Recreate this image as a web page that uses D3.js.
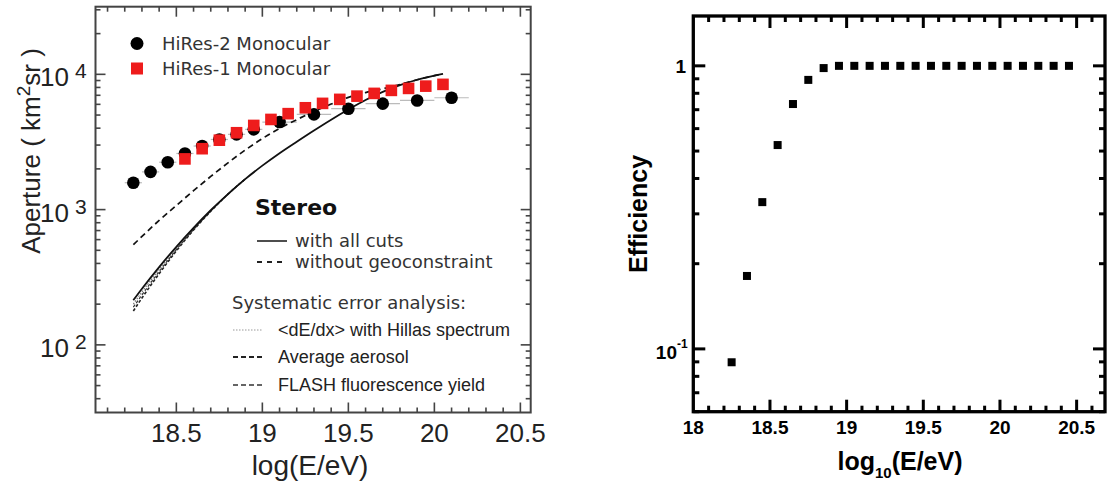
<!DOCTYPE html>
<html><head><meta charset="utf-8">
<script src="https://cdn.jsdelivr.net/npm/d3@7"></script>
</head><body style="margin:0">
<svg id="c" width="1107" height="487"></svg>
<script>
// ---------- Left panel data ----------
const hires2X = [18.25, 18.35, 18.45, 18.55, 18.65, 18.75, 18.85, 18.95, 19.1, 19.3, 19.5, 19.7, 19.9, 20.1];
const hires2Y = [1580, 1900, 2240, 2600, 2950, 3300, 3600, 3920, 4440, 5060, 5570, 6070, 6410, 6710];
const hires2Err = [0.05, 0.05, 0.05, 0.05, 0.05, 0.05, 0.05, 0.05, 0.1, 0.1, 0.1, 0.1, 0.1, 0.1];
const hires1X = [18.55, 18.65, 18.75, 18.85, 18.95, 19.05, 19.15, 19.25, 19.35, 19.45, 19.55, 19.65, 19.75, 19.85, 19.95, 20.05];
const hires1Y = [2370, 2820, 3260, 3700, 4190, 4640, 5120, 5660, 6100, 6530, 6900, 7230, 7610, 7870, 8180, 8430];
const cutsX = [18.25, 18.3, 18.4, 18.5, 18.6, 18.7, 18.8, 18.9, 19.0, 19.1, 19.2, 19.3, 19.4, 19.5, 19.6, 19.7, 19.8, 19.9, 20.0, 20.05];
const cutsY = [214, 260, 376, 531, 733, 989, 1303, 1679, 2113, 2612, 3177, 3846, 4624, 5495, 6457, 7413, 8318, 9120, 9772, 10069];
const noGeoX = [18.25, 18.4, 18.5, 18.6, 18.7, 18.8, 18.9, 19.0, 19.1, 19.2, 19.3, 19.4, 19.5, 19.6, 19.7, 19.8, 19.9, 20.0, 20.05];
const noGeoY = [550, 832, 1072, 1380, 1758, 2213, 2754, 3350, 3981, 4624, 5309, 6026, 6761, 7328, 7816, 8414, 9120, 9772, 10069];
const dedxX = [18.25, 18.3, 18.4, 18.5, 18.6, 18.7, 18.8, 18.9];
const dedxY = [200, 246, 360, 514, 718, 980, 1303, 1679];
const aerosolX = [18.25, 18.3, 18.4, 18.5, 18.6, 18.7, 18.8, 18.9];
const aerosolY = [178, 222, 336, 495, 706, 972, 1300, 1679];
const flashX = [18.25, 18.3, 18.4, 18.5, 18.6, 18.7, 18.8, 18.9];
const flashY = [190, 234, 348, 505, 712, 977, 1300, 1679];
const leftXTicks = [18.5, 19, 19.5, 20, 20.5];
const leftXTickLabels = ["18.5", "19", "19.5", "20", "20.5"];
const leftXMinor = [18.1, 18.2, 18.3, 18.4, 18.6, 18.7, 18.8, 18.9, 19.1, 19.2, 19.3, 19.4, 19.6, 19.7, 19.8, 19.9, 20.1, 20.2, 20.3, 20.4];
const leftYTicks = [100, 1000, 10000];
const leftYMinor = [40, 50, 60, 70, 80, 90, 200, 300, 400, 500, 600, 700, 800, 900, 2000, 3000, 4000, 5000, 6000, 7000, 8000, 9000, 20000, 30000];
const leftYExp = ["2", "3", "4"];

// ---------- Right panel data ----------
const effX = [18.25, 18.35, 18.45, 18.55, 18.65, 18.75, 18.85, 18.95, 19.05, 19.15, 19.25, 19.35, 19.45, 19.55, 19.65, 19.75, 19.85, 19.95, 20.05, 20.15, 20.25, 20.35, 20.45];
const effY = [0.0897, 0.181, 0.33, 0.525, 0.733, 0.892, 0.982, 1.0, 1.0, 1.0, 1.0, 1.0, 1.0, 1.0, 1.0, 1.0, 1.0, 1.0, 1.0, 1.0, 1.0, 1.0, 1.0];
const rightXTicks = [18, 18.5, 19, 19.5, 20, 20.5];
const rightXTickLabels = ["18", "18.5", "19", "19.5", "20", "20.5"];
const rightXMinor = [18.1, 18.2, 18.3, 18.4, 18.6, 18.7, 18.8, 18.9, 19.1, 19.2, 19.3, 19.4, 19.6, 19.7, 19.8, 19.9, 20.1, 20.2, 20.3, 20.4, 20.6];
const rightYTicks = [0.1, 1];
const rightYMinor = [0.06, 0.07, 0.08, 0.09, 0.2, 0.3, 0.4, 0.5, 0.6, 0.7, 0.8, 0.9];

const svg = d3.select("#c");

// ticks as thin filled rectangles pointing inward
function drawTicks(x, y, xMaj, xMin, yMaj, yMin, major, minor, color, sw) {
  const r1 = x.range(), r2 = y.range();
  const xa = r1[0], xb = r1[1], yb = r2[0], ya = r2[1];
  const rects = [];
  const h = sw / 2;
  xMaj.forEach(v => { const p = x(v); rects.push([p - h, yb - major, sw, major], [p - h, ya, sw, major]); });
  xMin.forEach(v => { const p = x(v); rects.push([p - h, yb - minor, sw, minor], [p - h, ya, sw, minor]); });
  yMaj.forEach(v => { const p = y(v); rects.push([xa, p - h, major, sw], [xb - major, p - h, major, sw]); });
  yMin.forEach(v => { const p = y(v); rects.push([xa, p - h, minor, sw], [xb - minor, p - h, minor, sw]); });
  svg.append("g").selectAll("rect").data(rects).join("rect")
    .attr("x", d => d[0]).attr("y", d => d[1]).attr("width", d => d[2]).attr("height", d => d[3])
    .attr("fill", color);
}

// ================= LEFT PANEL =================
const xL = d3.scaleLinear().domain([18.03, 20.56]).range([95.5, 530.7]);
const yL = d3.scaleLog().domain([Math.pow(10, 1.5), Math.pow(10, 4.5)]).range([412.5, 6.7]);
const gL = svg.append("g");
const lineL = (xs, ys) => d3.line().x((d, i) => xL(xs[i])).y((d, i) => yL(ys[i])).curve(d3.curveMonotoneX)(xs);

gL.append("g").selectAll("line").data(hires2X).join("line")
  .attr("x1", (d, i) => xL(d - hires2Err[i])).attr("x2", (d, i) => xL(d + hires2Err[i]))
  .attr("y1", (d, i) => yL(hires2Y[i])).attr("y2", (d, i) => yL(hires2Y[i]))
  .attr("stroke", "#bbb").attr("stroke-width", 1.2);

gL.append("path").attr("d", lineL(dedxX, dedxY)).attr("fill", "none").attr("stroke", "#777").attr("stroke-width", 1.2).attr("stroke-dasharray", "1.5,1.5");
gL.append("path").attr("d", lineL(aerosolX, aerosolY)).attr("fill", "none").attr("stroke", "#222").attr("stroke-width", 1.6).attr("stroke-dasharray", "3,2");
gL.append("path").attr("d", lineL(flashX, flashY)).attr("fill", "none").attr("stroke", "#333").attr("stroke-width", 1.2).attr("stroke-dasharray", "3,2");
gL.append("path").attr("d", lineL(cutsX, cutsY)).attr("fill", "none").attr("stroke", "#111").attr("stroke-width", 1.8);
gL.append("path").attr("d", lineL(noGeoX, noGeoY)).attr("fill", "none").attr("stroke", "#111").attr("stroke-width", 1.7).attr("stroke-dasharray", "6,4");

gL.append("g").selectAll("circle").data(hires2X).join("circle")
  .attr("cx", d => xL(d)).attr("cy", (d, i) => yL(hires2Y[i])).attr("r", 6.3).attr("fill", "#000");
gL.append("g").selectAll("rect").data(hires1X).join("rect")
  .attr("x", d => xL(d) - 5.8).attr("y", (d, i) => yL(hires1Y[i]) - 5.8).attr("width", 11.6).attr("height", 11.6).attr("fill", "#ee1c1c");

gL.append("rect").attr("x", 95.5).attr("y", 6.7).attr("width", 530.7 - 95.5).attr("height", 412.5 - 6.7)
  .attr("fill", "none").attr("stroke", "#444").attr("stroke-width", 2);
drawTicks(xL, yL, leftXTicks, leftXMinor, leftYTicks, leftYMinor, 10, 5, "#444", 1.6);

gL.append("g").selectAll("text").data(leftXTicks).join("text")
  .attr("x", d => xL(d)).attr("y", 442).attr("text-anchor", "middle")
  .attr("font-family", "Liberation Sans, Arial, sans-serif").attr("font-size", 26).attr("fill", "#222")
  .text((d, i) => leftXTickLabels[i]);
leftYTicks.forEach((v, i) => {
  gL.append("text").attr("font-family", "Liberation Sans, Arial, sans-serif").attr("fill", "#222")
    .attr("x", 69).attr("y", yL(v) + 12).attr("text-anchor", "end").attr("font-size", 26).text("10");
  gL.append("text").attr("font-family", "Liberation Sans, Arial, sans-serif").attr("fill", "#222")
    .attr("x", 75).attr("y", yL(v) + 4).attr("font-size", 21).text(leftYExp[i]);
});

gL.append("text").attr("x", 310).attr("y", 475).attr("text-anchor", "middle")
  .attr("font-family", "Liberation Sans, Arial, sans-serif").attr("font-size", 28).attr("fill", "#222").text("log(E/eV)");
const yt = gL.append("text").attr("transform", "translate(40,151) rotate(-90)").attr("text-anchor", "middle")
  .attr("font-family", "Liberation Sans, Arial, sans-serif").attr("font-size", 26).attr("fill", "#222");
yt.append("tspan").text("Aperture ( km");
yt.append("tspan").attr("font-size", 19).attr("dy", -10).text("2");
yt.append("tspan").attr("dy", 10).text("sr )");

const lf = "DejaVu Sans, Verdana, sans-serif";
gL.append("circle").attr("cx", 137).attr("cy", 43.5).attr("r", 6.5).attr("fill", "#000");
gL.append("text").attr("x", 162).attr("y", 50).attr("font-family", lf).attr("font-size", 18).attr("fill", "#333").text("HiRes-2 Monocular");
gL.append("rect").attr("x", 131).attr("y", 62.5).attr("width", 12).attr("height", 12).attr("fill", "#ee1c1c");
gL.append("text").attr("x", 162).attr("y", 75).attr("font-family", lf).attr("font-size", 18).attr("fill", "#333").text("HiRes-1 Monocular");
gL.append("text").attr("x", 255).attr("y", 215).attr("font-family", lf).attr("font-size", 22).attr("font-weight", "bold").attr("fill", "#111").text("Stereo");
gL.append("line").attr("x1", 257).attr("x2", 287).attr("y1", 241).attr("y2", 241).attr("stroke", "#222").attr("stroke-width", 1.6);
gL.append("text").attr("x", 295).attr("y", 247).attr("font-family", lf).attr("font-size", 18).attr("fill", "#333").text("with all cuts");
gL.append("line").attr("x1", 257).attr("x2", 287).attr("y1", 262).attr("y2", 262).attr("stroke", "#222").attr("stroke-width", 1.8).attr("stroke-dasharray", "5,5");
gL.append("text").attr("x", 295).attr("y", 268).attr("font-family", lf).attr("font-size", 18).attr("fill", "#333").text("without geoconstraint");
gL.append("text").attr("x", 232).attr("y", 309).attr("font-family", lf).attr("font-size", 18).attr("fill", "#333").text("Systematic error analysis:");
const sf = "Liberation Sans, Arial, sans-serif";
gL.append("line").attr("x1", 233).attr("x2", 262).attr("y1", 330).attr("y2", 330).attr("stroke", "#999").attr("stroke-width", 1).attr("stroke-dasharray", "1.5,1.5");
gL.append("text").attr("x", 278).attr("y", 336).attr("font-family", sf).attr("font-size", 18).attr("fill", "#222").text("<dE/dx> with Hillas spectrum");
gL.append("line").attr("x1", 233).attr("x2", 265).attr("y1", 357).attr("y2", 357).attr("stroke", "#222").attr("stroke-width", 1.8).attr("stroke-dasharray", "5,3");
gL.append("text").attr("x", 278).attr("y", 363).attr("font-family", sf).attr("font-size", 18).attr("fill", "#222").text("Average aerosol");
gL.append("line").attr("x1", 233).attr("x2", 265).attr("y1", 385).attr("y2", 385).attr("stroke", "#333").attr("stroke-width", 1.3).attr("stroke-dasharray", "5,3");
gL.append("text").attr("x", 278).attr("y", 391).attr("font-family", sf).attr("font-size", 18).attr("fill", "#222").text("FLASH fluorescence yield");

// ================= RIGHT PANEL =================
const xR = d3.scaleLinear().domain([18, 20.685]).range([693.3, 1105]);
const yR = d3.scaleLog().domain([0.06, 1.5]).range([411.7, 16]);
const gR = svg.append("g");
gR.append("g").selectAll("rect").data(effX).join("rect")
  .attr("x", d => xR(d) - 4).attr("y", (d, i) => yR(effY[i]) - 4).attr("width", 8).attr("height", 8).attr("fill", "#000");
gR.append("rect").attr("x", 693.3).attr("y", 16).attr("width", 1105 - 693.3).attr("height", 411.7 - 16)
  .attr("fill", "none").attr("stroke", "#000").attr("stroke-width", 3.3);
drawTicks(xR, yR, rightXTicks.slice(1), rightXMinor, rightYTicks, rightYMinor, 12, 6, "#000", 3);
const bf = "Liberation Sans, Arial, sans-serif";
gR.append("g").selectAll("text").data(rightXTicks).join("text")
  .attr("x", d => xR(d)).attr("y", 434).attr("text-anchor", "middle")
  .attr("font-family", bf).attr("font-weight", "bold").attr("font-size", 19).attr("fill", "#000")
  .text((d, i) => rightXTickLabels[i]);
gR.append("text").attr("x", 686).attr("y", yR(1) + 7).attr("text-anchor", "end")
  .attr("font-family", bf).attr("font-weight", "bold").attr("font-size", 19).text("1");
gR.append("text").attr("x", 677).attr("y", yR(0.1) + 10).attr("text-anchor", "end")
  .attr("font-family", bf).attr("font-weight", "bold").attr("font-size", 19).text("10");
gR.append("text").attr("x", 677).attr("y", yR(0.1) - 1).attr("font-family", bf).attr("font-weight", "bold").attr("font-size", 12).text("-1");
gR.append("text").attr("transform", "translate(647,214) rotate(-90)").attr("text-anchor", "middle")
  .attr("font-family", bf).attr("font-weight", "bold").attr("font-size", 25).text("Efficiency");
const xt = gR.append("text").attr("x", 900).attr("y", 470).attr("text-anchor", "middle")
  .attr("font-family", bf).attr("font-weight", "bold").attr("font-size", 25);
xt.append("tspan").text("log");
xt.append("tspan").attr("font-size", 15).attr("dy", 8).text("10");
xt.append("tspan").attr("dy", -8).text("(E/eV)");
</script>
</body></html>
